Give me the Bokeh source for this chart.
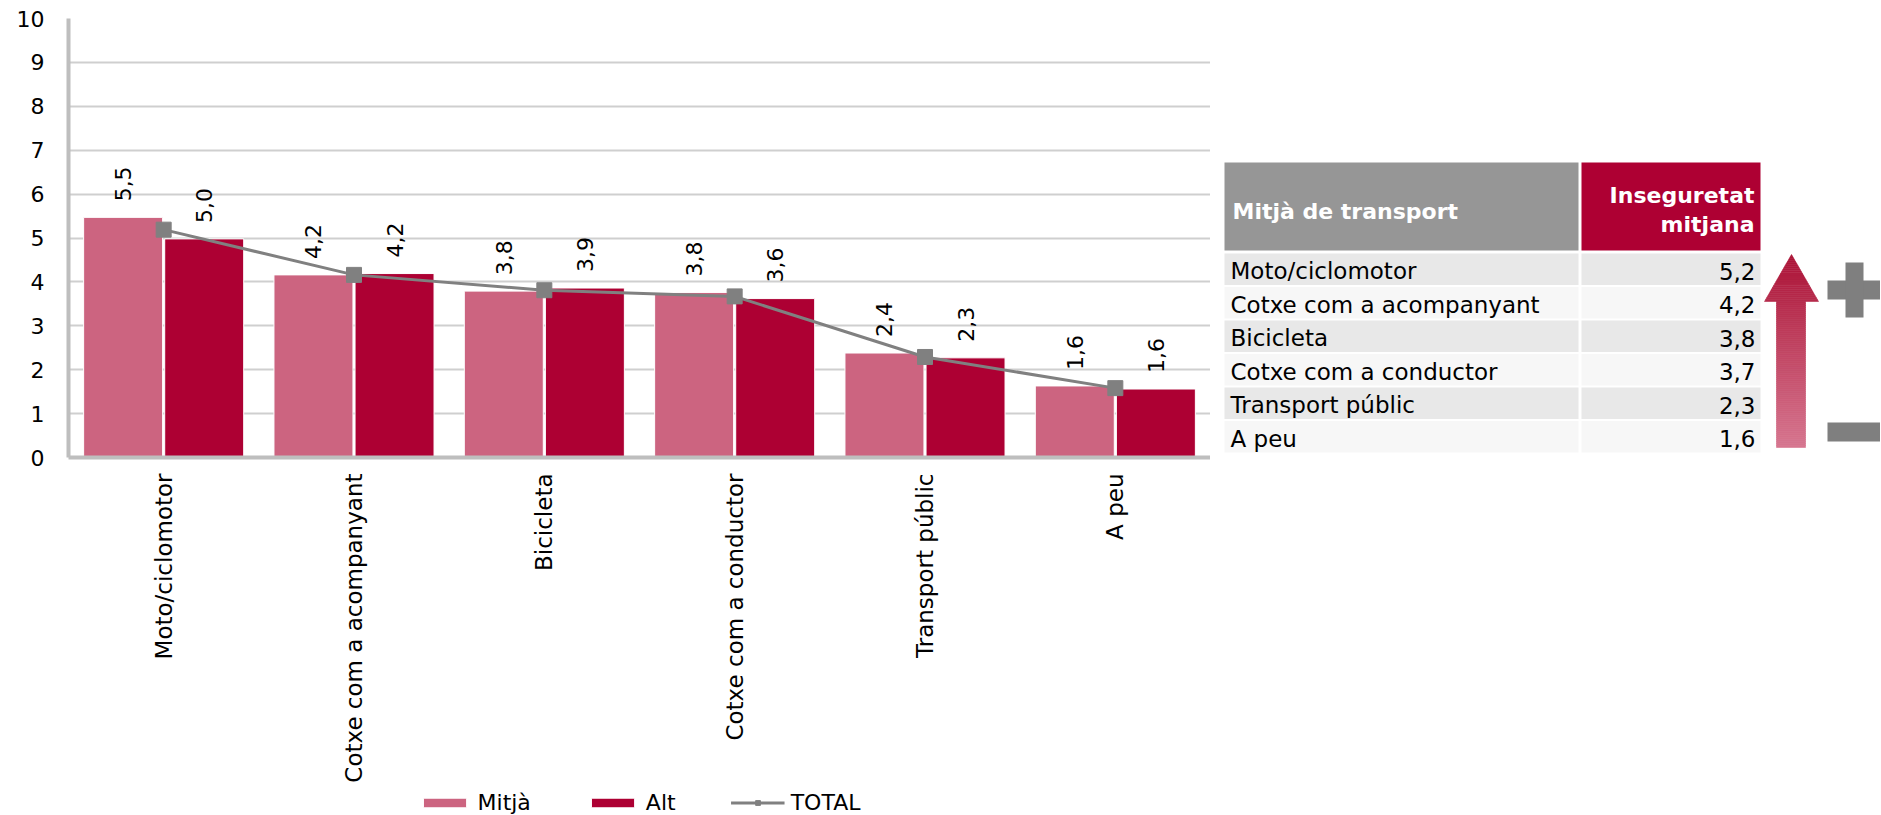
import numpy as np
from bokeh.plotting import figure
from bokeh.models import (ColumnDataSource, FactorRange, Range1d, LabelSet,
                          Legend, LegendItem, FixedTicker)
from bokeh.transform import dodge
from bokeh.layouts import row, column
from bokeh.core.properties import value
from bokeh.embed import file_html
from bokeh.resources import INLINE

# ---------------- data ----------------
categories = ["Moto/ciclomotor", "Cotxe com a acompanyant", "Bicicleta",
              "Cotxe com a conductor", "Transport públic", "A peu"]
mitja = [5.47, 4.16, 3.79, 3.76, 2.38, 1.63]
alt = [4.98, 4.19, 3.86, 3.62, 2.27, 1.56]
total = [5.19, 4.16, 3.81, 3.67, 2.29, 1.58]
y_ticks = [0, 1, 2, 3, 4, 5, 6, 7, 8, 9, 10]
series_names = ["Mitjà", "Alt", "TOTAL"]
table_head_1 = "Mitjà de transport"
table_head_2 = ["Inseguretat", "mitjana"]

FONT = "DejaVu Sans"
PINK = "#CC6480"
RED = "#AD0033"
GREY = "#808080"

W, H = 1880, 814
LEG_H = 24
TOP_H = H - LEG_H
FRAME_L, FRAME_R, FRAME_T, FRAME_B = 68, 1210, 18, 457


def fmt(v):
    return f"{v:.1f}".replace(".", ",")


# ---------------- bar chart ----------------
p = figure(width=FRAME_R, height=TOP_H,
           x_range=FactorRange(*categories, range_padding=0),
           y_range=Range1d(0, 10),
           output_backend="svg", toolbar_location=None,
           min_border_left=FRAME_L, min_border_right=0,
           min_border_top=FRAME_T, min_border_bottom=TOP_H - FRAME_B)
p.outline_line_color = None
p.background_fill_color = "white"
p.border_fill_color = "white"
p.xgrid.grid_line_color = None
p.ygrid.grid_line_color = "#CFCFCF"
p.ygrid.grid_line_width = 2

p.yaxis.ticker = FixedTicker(ticks=y_ticks)
for ax in (p.xaxis, p.yaxis):
    ax.axis_line_color = "#BEBEBE"
    ax.axis_line_width = 4
    ax.major_tick_line_color = None
    ax.minor_tick_line_color = None
    ax.major_tick_in = 0
    ax.major_tick_out = 0
    ax.major_label_text_font = FONT
    ax.major_label_text_color = "#000000"
p.yaxis.major_label_text_font_size = "22px"
p.yaxis.major_label_standoff = 24
p.xaxis.major_label_text_font_size = "23px"
p.xaxis.major_label_orientation = np.pi / 2
p.xaxis.major_label_standoff = 16

src = ColumnDataSource(dict(
    cat=categories, mitja=mitja, alt=alt, total=total,
    lm=[fmt(v) for v in mitja], la=[fmt(v) for v in alt]))

off = 0.213
bw = 0.415
bar_style = dict(line_color="white", line_width=1)
line_style = dict(line_color=GREY, line_width=3)
mark_style = dict(marker="square", size=15, fill_color=GREY, line_color=GREY)

r1 = p.vbar(x=dodge("cat", -off, range=p.x_range), top="mitja", width=bw,
            source=src, fill_color=PINK, **bar_style)
r2 = p.vbar(x=dodge("cat", off, range=p.x_range), top="alt", width=bw,
            source=src, fill_color=RED, **bar_style)
r3 = p.line(x="cat", y="total", source=src, **line_style)
r4 = p.scatter(x="cat", y="total", source=src, **mark_style)

for field, lab, o in (("mitja", "lm", -off), ("alt", "la", off)):
    ls = LabelSet(x=dodge("cat", o, range=p.x_range), y=field, text=lab,
                  source=src, angle=np.pi / 2, text_align="left",
                  text_baseline="middle", y_offset=16,
                  text_font=value(FONT), text_font_size=value("22px"),
                  text_color="#000000")
    p.add_layout(ls)

# ---------------- legend strip ----------------
lg = figure(width=FRAME_R, height=LEG_H, x_range=Range1d(0, 1),
            y_range=Range1d(0, 1), output_backend="svg",
            toolbar_location=None, min_border_left=FRAME_L,
            min_border_right=0, min_border_top=0, min_border_bottom=0,
            x_axis_type=None, y_axis_type=None)
lg.outline_line_color = None
lg.grid.visible = False
g1 = lg.vbar(x=[-5], top=[0], width=0.1, fill_color=PINK, **bar_style)
g2 = lg.vbar(x=[-5], top=[0], width=0.1, fill_color=RED, **bar_style)
g3 = lg.line(x=[-5, -4], y=[0, 0], **line_style)
g4 = lg.scatter(x=[-5], y=[0], **mark_style)
legend = Legend(items=[LegendItem(label=series_names[0], renderers=[g1]),
                       LegendItem(label=series_names[1], renderers=[g2]),
                       LegendItem(label=series_names[2], renderers=[g3, g4])],
                location="center", orientation="horizontal",
                glyph_width=54, glyph_height=12, label_standoff=6,
                label_height=20, spacing=55, padding=0, margin=0,
                border_line_color=None, background_fill_alpha=0,
                label_text_font=FONT, label_text_font_size="22px",
                label_text_color="#000000")
lg.add_layout(legend)

# ---------------- table + arrow ----------------
t = figure(width=W - FRAME_R, height=TOP_H, x_range=Range1d(FRAME_R, W),
           y_range=Range1d(FRAME_B, FRAME_T), output_backend="svg",
           toolbar_location=None, min_border_left=0, min_border_right=0,
           min_border_top=FRAME_T, min_border_bottom=TOP_H - FRAME_B,
           x_axis_type=None, y_axis_type=None)
t.outline_line_color = None
t.grid.visible = False

c1l, c1r, c2l, c2r = 1224, 1578, 1581, 1760
t.quad(left=[c1l, c2l], right=[c1r, c2r], top=[162, 162], bottom=[250, 250],
       fill_color=["#969696", "#AE0033"], line_color=None)
t.text(x=[1232], y=[211], text=[table_head_1], text_font=value(FONT),
       text_font_style="bold", text_font_size="22px", text_color="white",
       text_align="left", text_baseline="middle")
t.text(x=[1754, 1754], y=[195, 224], text=table_head_2, text_font=value(FONT),
       text_font_style="bold", text_font_size="22px", text_color="white",
       text_align="right", text_baseline="middle")

n = len(categories)
row_h = 33.5
tops = [253 + row_h * i for i in range(n)]
bots = [tp + 31.5 for tp in tops]
cols = ["#E8E8E8" if i % 2 == 0 else "#F7F7F7" for i in range(n)]
tsrc = ColumnDataSource(dict(top=tops, bot=bots, col=cols,
                             mid=[tp + 17.5 for tp in tops],
                             name=categories, val=[fmt(v) for v in total]))
t.quad(left=c1l, right=c1r, top="top", bottom="bot", fill_color="col",
       line_color=None, source=tsrc)
t.quad(left=c2l, right=c2r, top="top", bottom="bot", fill_color="col",
       line_color=None, source=tsrc)
t.text(x=1230, y="mid", text="name", source=tsrc, text_font=value(FONT),
       text_font_size="23px", text_color="#000000", text_align="left",
       text_baseline="middle")
t.text(x=1755, y="mid", text="val", source=tsrc, text_font=value(FONT),
       text_font_size="23px", text_color="#000000", text_align="right",
       text_baseline="middle")

# gradient arrow
tip_x, top_y, base_y, bot_y = 1791, 254, 301, 447
head_l, head_r, sh_l, sh_r = 1763, 1817, 1776, 1805
c_top = np.array([172, 20, 55])
c_bot = np.array([214, 118, 143])


def col_at(y):
    f = (y - top_y) / (bot_y - top_y)
    c = c_top + (c_bot - c_top) * f
    return "#%02x%02x%02x" % tuple(int(round(v)) for v in c)


xs, ys, cs = [], [], []
nh = 24
for k in range(nh):
    y0 = top_y + (base_y - top_y) * k / nh
    y1 = top_y + (base_y - top_y) * (k + 1) / nh
    hw0 = (y0 - top_y) / (base_y - top_y) * (head_r - head_l) / 2
    hw1 = (y1 - top_y) / (base_y - top_y) * (head_r - head_l) / 2
    xs.append([tip_x - hw0, tip_x + hw0, tip_x + hw1, tip_x - hw1])
    ys.append([y0, y0, y1, y1])
    cs.append(col_at((y0 + y1) / 2))
ns = 73
for k in range(ns):
    y0 = base_y + (bot_y - base_y) * k / ns
    y1 = base_y + (bot_y - base_y) * (k + 1) / ns
    xs.append([sh_l, sh_r, sh_r, sh_l])
    ys.append([y0 - 0.3, y0 - 0.3, y1, y1])
    cs.append(col_at((y0 + y1) / 2))
t.patches(xs=xs, ys=ys, fill_color=cs, line_color=cs, line_width=0.6)

# plus / minus
t.quad(left=[1827, 1845, 1827], right=[1881, 1863, 1881],
       top=[280, 262, 422], bottom=[299, 317, 441],
       fill_color="#7F7F7F", line_color=None)

layout = column(row(p, t), lg)
open("out.html", "w").write(file_html(layout, INLINE))
